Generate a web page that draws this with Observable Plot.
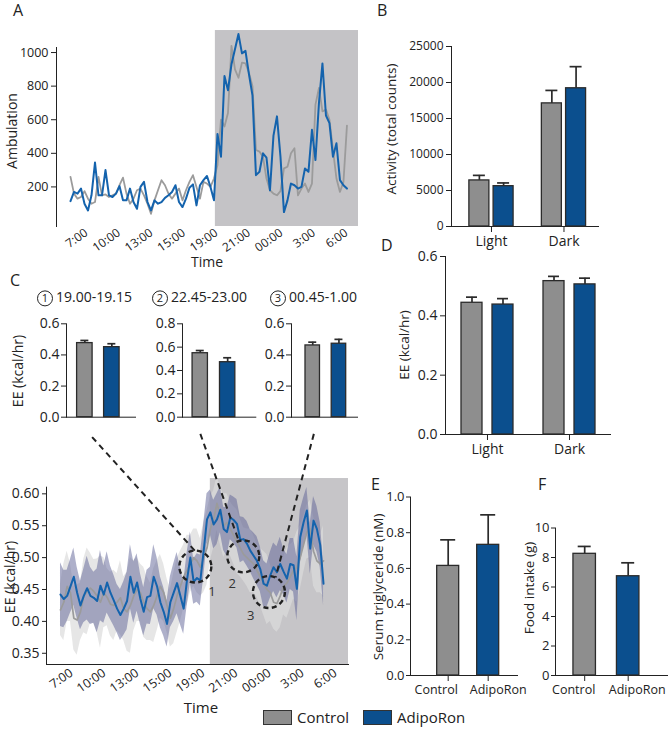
<!DOCTYPE html>
<html><head><meta charset="utf-8">
<script src="https://cdn.jsdelivr.net/npm/d3@7"></script>
<script src="https://cdn.jsdelivr.net/npm/@observablehq/plot@0.6"></script>
<style>
body{margin:0;background:#fff;}
#fig{position:relative;width:670px;height:729px;overflow:hidden;font-family:"Open Sans",sans-serif;color:#222;background:#fff;}
.lab{position:absolute;white-space:nowrap;line-height:1.2;}
.circ{display:inline-block;width:14px;height:14px;border:1.3px solid #222;border-radius:50%;text-align:center;line-height:14px;font-size:11px;margin-right:3px;vertical-align:middle;}
.leg{position:absolute;display:flex;align-items:center;font-size:15px;line-height:1;height:16px;}
.sw{display:inline-block;width:27px;height:13px;border:1.5px solid #333;margin-right:5px;}
</style></head><body><div id="fig"></div>
<script>
// ---------- data ----------
const timeLabels = ["7:00","10:00","13:00","15:00","19:00","21:00","00:00","3:00","6:00"];
// Panel A: ambulation per bin (index), 80 bins
const tickIdxA = [4.57, 13.86, 23.14, 32.43, 41.71, 51, 60.29, 69.57, 78.86];
const darkStartA = 41.4, lastIdxA = 82.3;
const ambAdipo = [
 115,170,160,190,100,60,150,345,150,150,
 300,150,140,160,205,120,120,190,110,70,
 200,230,110,60,120,100,110,135,150,170,
 210,110,80,130,195,215,90,210,240,265,
 200,120,515,380,860,775,930,1020,1110,995,
 1010,870,745,270,290,400,375,180,505,620,
 380,50,120,220,210,190,200,310,290,540,
 360,700,935,625,580,380,460,240,210,190];
const ambControl = [
 260,160,130,140,175,130,100,110,260,150,
 155,140,150,160,210,255,160,100,130,180,
 190,150,100,40,120,180,240,210,160,130,
 160,190,120,180,230,270,200,130,230,220,
 200,250,330,600,560,640,1040,900,850,940,
 935,880,800,420,410,380,250,180,160,150,
 175,310,320,400,430,150,190,220,170,220,
 690,790,650,660,600,420,250,170,230,565];

// Panel B: activity totals
const periods = ["Light","Dark"];
const actControl = [6400, 17100], actControlErr = [700, 1800];
const actAdipo = [5600, 19200], actAdipoErr = [450, 3000];

// Panel D: EE light/dark
const eeLDControl = [0.444, 0.517], eeLDControlErr = [0.019, 0.016];
const eeLDAdipo = [0.438, 0.506], eeLDAdipoErr = [0.020, 0.021];

// Panel C (top): windows
const windows = ["19.00-19.15","22.45-23.00","00.45-1.00"];
const winControl = [0.476, 0.548, 0.461], winControlErr = [0.017, 0.023, 0.021];
const winAdipo = [0.450, 0.471, 0.472], winAdipoErr = [0.022, 0.038, 0.028];
const winYMax = [0.6, 0.8, 0.6];

// Panel C (bottom): EE time course (80 bins) mean and SEM
const tickIdxC = [3.3, 13.2, 23.1, 33.0, 42.9, 52.8, 62.8, 72.7, 82.6];
const darkStartC = 45, lastIdxC = 86.5;
const eeAdipo = [
 0.442,0.435,0.440,0.455,0.470,0.445,0.425,0.440,0.452,0.440,
 0.437,0.432,0.456,0.442,0.461,0.445,0.433,0.420,0.410,0.420,
 0.432,0.470,0.445,0.461,0.435,0.415,0.438,0.440,0.470,0.455,
 0.430,0.415,0.396,0.430,0.445,0.460,0.440,0.420,0.465,0.500,
 0.462,0.468,0.464,0.510,0.560,0.571,0.552,0.560,0.575,0.545,
 0.540,0.563,0.559,0.553,0.528,0.529,0.522,0.511,0.503,0.495,
 0.482,0.459,0.456,0.472,0.485,0.477,0.490,0.478,0.467,0.490,
 0.488,0.451,0.532,0.555,0.574,0.514,0.558,0.545,0.520,0.459];
const eeControl = [
 0.418,0.430,0.455,0.445,0.405,0.402,0.415,0.440,0.447,0.452,
 0.447,0.440,0.430,0.445,0.438,0.427,0.425,0.430,0.437,0.420,
 0.415,0.425,0.440,0.450,0.445,0.430,0.420,0.415,0.425,0.440,
 0.455,0.445,0.425,0.405,0.420,0.440,0.455,0.470,0.480,0.490,
 0.500,0.495,0.485,0.500,0.515,0.545,0.560,0.585,0.565,0.550,
 0.555,0.545,0.535,0.525,0.515,0.505,0.500,0.495,0.490,0.480,
 0.470,0.460,0.450,0.445,0.430,0.428,0.440,0.455,0.460,0.470,
 0.480,0.485,0.500,0.520,0.540,0.545,0.510,0.495,0.490,0.495];
const eeAdipoSem = [
 0.050,0.045,0.040,0.042,0.045,0.040,0.038,0.042,0.050,0.045,
 0.040,0.050,0.055,0.045,0.048,0.042,0.040,0.038,0.040,0.042,
 0.045,0.050,0.048,0.045,0.040,0.038,0.042,0.045,0.050,0.045,
 0.040,0.038,0.036,0.040,0.045,0.048,0.045,0.040,0.042,0.040,
 0.035,0.038,0.040,0.042,0.040,0.035,0.038,0.040,0.036,0.034,
 0.038,0.035,0.036,0.038,0.036,0.034,0.035,0.033,0.036,0.038,
 0.035,0.036,0.034,0.036,0.038,0.040,0.042,0.036,0.038,0.040,
 0.042,0.050,0.042,0.038,0.036,0.040,0.038,0.036,0.035,0.034];
const eeControlSem = [
 0.040,0.060,0.055,0.045,0.050,0.055,0.045,0.058,0.068,0.055,
 0.050,0.058,0.072,0.055,0.045,0.050,0.055,0.045,0.058,0.050,
 0.062,0.075,0.055,0.050,0.045,0.055,0.050,0.045,0.058,0.055,
 0.050,0.045,0.042,0.045,0.055,0.058,0.055,0.050,0.055,0.045,
 0.045,0.050,0.045,0.055,0.058,0.050,0.045,0.042,0.045,0.050,
 0.045,0.042,0.045,0.050,0.045,0.042,0.045,0.050,0.045,0.042,
 0.045,0.050,0.055,0.045,0.042,0.045,0.050,0.045,0.055,0.050,
 0.045,0.055,0.050,0.045,0.042,0.045,0.055,0.050,0.045,0.055];
// zoom windows marked on the time course (bin index, EE) and their links to the bar panels
const markWindows = [{n:"1", i:40.5, v:0.486, li:45.5, lv:0.446}, {n:"2", i:54.9, v:0.502, li:51.6, lv:0.459}, {n:"3", i:62.6, v:0.446, li:57.1, lv:0.409}];
const markLinks = [{x1:9.5, y1:0.689, x2:40.5, y2:0.510}, {x1:42.0, y1:0.694, x2:53.5, y2:0.527}, {x1:76.1, y1:0.694, x2:64.6, y2:0.469}];

// Panel E / F
const groups = ["Control","AdipoRon"];
const trig = [0.614, 0.732], trigErr = [0.146, 0.168];
const food = [8.25, 6.73], foodErr = [0.50, 0.91];

// ---------- helpers ----------
const GREY = "#8e8e8e", BLUE = "#0b4f8e", EDGE = "#2b2b2b";
const LINEBLUE = "#1463ad", LINEGREY = "#9b9b9b";
const fig = document.getElementById("fig");
const BASE = {background:"transparent", fontFamily:"'Open Sans', sans-serif", color:"#222", overflow:"visible"};
function addSvg(svg, left, top){ svg.style.position="absolute"; svg.style.left=left+"px"; svg.style.top=top+"px"; fig.appendChild(svg); return svg; }
function txt(s, x, y, size, mode){ const d=document.createElement("div"); d.className="lab"; d.textContent=s;
  d.style.left=x+"px"; d.style.top=y+"px"; d.style.fontSize=size+"px";
  d.style.transform = mode==="rot" ? "translate(-50%,-50%) rotate(-90deg)" : mode==="ctr" ? "translate(-50%,-50%)" : "translate(0,-50%)";
  fig.appendChild(d); return d; }
function axisFont(svg, axis, size){ svg.querySelectorAll(`g[aria-label^="${axis}-axis"] text`).forEach(t=>t.setAttribute("font-size", size)); }
function nudgeX(svg, shifts){ svg.querySelectorAll(`g[aria-label^="x-axis"] text`).forEach(t=>{ const s = shifts[t.textContent.trim()]; if (s) t.setAttribute("dx", s); }); }
function bw(W, n, pi, po){ return W*(1-pi)/(n - pi + 2*po); }
const color = {domain: groups, range: [GREY, BLUE]};

function groupedMarks(recs, band, barW, capW){
  const off = band/2 - barW/2;
  const c = recs.filter(d=>d.group==="Control"), a = recs.filter(d=>d.group==="AdipoRon");
  const top = d=>d.value+d.err;
  return [
    Plot.ruleX(c, {x:"cat", y1:"value", y2:top, dx:-off, stroke:EDGE, strokeWidth:1.7}),
    Plot.ruleX(a, {x:"cat", y1:"value", y2:top, dx:off, stroke:EDGE, strokeWidth:1.7}),
    Plot.tickY(c, {x:"cat", y:top, insetLeft:barW/2-capW/2, insetRight:band-barW/2-capW/2, stroke:EDGE, strokeWidth:1.7}),
    Plot.tickY(a, {x:"cat", y:top, insetLeft:band-barW/2-capW/2, insetRight:barW/2-capW/2, stroke:EDGE, strokeWidth:1.7}),
    Plot.barY(c, {x:"cat", y:"value", fill:"group", insetRight:band-barW, stroke:EDGE, strokeWidth:1.3}),
    Plot.barY(a, {x:"cat", y:"value", fill:"group", insetLeft:band-barW, stroke:EDGE, strokeWidth:1.3})
  ];
}
function singleMarks(recs, band, capW){
  const top = d=>d.value+d.err;
  return [
    Plot.ruleX(recs, {x:"group", y1:"value", y2:top, stroke:EDGE, strokeWidth:1.7}),
    Plot.tickY(recs, {x:"group", y:top, insetLeft:(band-capW)/2, insetRight:(band-capW)/2, stroke:EDGE, strokeWidth:1.7}),
    Plot.barY(recs, {x:"group", y:"value", fill:"group", stroke:EDGE, strokeWidth:1.3})
  ];
}

// ---------- Panel A ----------
{
  const tl = new Map(tickIdxA.map((t,k)=>[t, timeLabels[k]]));
  const svg = Plot.plot({
    width: 362, height: 272, marginLeft: 56, marginRight: 4, marginTop: 47, marginBottom: 46,
    style: {...BASE, fontSize: "12.5px"},
    x: {domain: [-4, lastIdxA], ticks: tickIdxA, tickFormat: d=>tl.get(d), tickRotate: -35, tickSize: 0, tickPadding: 5, label: null},
    y: {domain: [-35.7, 1030], ticks: [200,400,600,800,1000], tickFormat: "d", tickSize: 5, tickPadding: 3, line: true, label: null},
    marks: [
      Plot.rect([0], {x1: darkStartA, x2: lastIdxA, y1: -35.7, y2: 1131, fill: "#c4c3c6"}),
      Plot.line(ambControl, {x: (d,i)=>i, y: d=>d, stroke: LINEGREY, strokeWidth: 1.8}),
      Plot.line(ambAdipo, {x: (d,i)=>i, y: d=>d, stroke: LINEBLUE, strokeWidth: 2})
    ]
  });
  axisFont(svg, "x", 12);
  addSvg(svg, 0, 0);
  txt("Ambulation", 12, 131, 14, "rot");
  txt("Time", 207, 262, 14, "ctr");
  txt("A", 13, 11, 16);
}

// ---------- Panel B ----------
{
  const recs = periods.flatMap((p,k)=>[{cat:p, group:"Control", value:actControl[k], err:actControlErr[k]}, {cat:p, group:"AdipoRon", value:actAdipo[k], err:actAdipoErr[k]}]);
  const pi=0.39, po=0.209, W=147;
  const band = bw(W, 2, pi, po);
  const svg = Plot.plot({
    width: 310, height: 258, marginLeft: 91, marginRight: 72, marginTop: 46, marginBottom: 32,
    style: {...BASE, fontSize: "12px"},
    x: {domain: periods, paddingInner: pi, paddingOuter: po, align: 0.59, round: false, tickSize: 6, tickPadding: 4, line: true, label: null},
    y: {domain: [0, 25000], ticks: [0,5000,10000,15000,20000,25000], tickFormat: "d", tickSize: 5, tickPadding: 3, line: true, label: null},
    color,
    marks: groupedMarks(recs, band, 20, 12)
  });
  axisFont(svg, "x", 14);
  addSvg(svg, 360, 0);
  txt("Activity (total counts)", 391, 129, 13.5, "rot");
  txt("B", 377, 11, 16);
}

// ---------- Panel D ----------
{
  const recs = periods.flatMap((p,k)=>[{cat:p, group:"Control", value:eeLDControl[k], err:eeLDControlErr[k]}, {cat:p, group:"AdipoRon", value:eeLDAdipo[k], err:eeLDAdipoErr[k]}]);
  const pi=0.366, po=0.189, W=165;
  const band = bw(W, 2, pi, po);
  const svg = Plot.plot({
    width: 310, height: 215, marginLeft: 85, marginRight: 60, marginTop: 8, marginBottom: 29,
    style: {...BASE, fontSize: "14px"},
    x: {domain: periods, paddingInner: pi, paddingOuter: po, align: 0.516, round: false, tickSize: 6, tickPadding: 4, line: true, label: null},
    y: {domain: [0, 0.6], ticks: [0,0.2,0.4,0.6], tickFormat: ".1f", tickSize: 5, tickPadding: 3, line: true, label: null},
    color,
    marks: groupedMarks(recs, band, 21, 11)
  });
  addSvg(svg, 360, 248);
  txt("EE (kcal/hr)", 404, 345, 13.5, "rot");
  txt("D", 381, 246, 16);
}

// ---------- Panel C (top: three windows) ----------
{
  const frames = [{L:66, R:135, pi:0.426, po:0.491, al:0.40}, {L:181.7, R:255, pi:0.44, po:0.557, al:0.33}, {L:291, R:357, pi:0.447, po:0.483, al:0.553}];
  windows.forEach((w,k)=>{
    const f = frames[k], W = f.R - f.L;
    const band = bw(W, 2, f.pi, f.po);
    const recs = [{group:"Control", value:winControl[k], err:winControlErr[k]}, {group:"AdipoRon", value:winAdipo[k], err:winAdipoErr[k]}];
    const svg = Plot.plot({
      width: W + 51, height: 113, marginLeft: 45, marginRight: 6, marginTop: 13.3, marginBottom: 6.3,
      style: {...BASE, fontSize: "14px"},
      x: {domain: groups, paddingInner: f.pi, paddingOuter: f.po, align: f.al, round: false, tickSize: 0, tickFormat: ()=>"", line: true, label: null},
      y: {domain: [0, winYMax[k]], ticks: d3.range(0, winYMax[k]+0.01, 0.2), tickFormat: ".1f", tickSize: 5, tickPadding: 2, line: true, label: null},
      color,
      marks: singleMarks(recs, band, 8)
    });
    addSvg(svg, f.L - 45, 310);
  });
  const titleX = [37, 152, 270];
  windows.forEach((w,k)=>{
    const d = document.createElement("div"); d.className="lab"; d.style.left=titleX[k]+"px"; d.style.top="298px"; d.style.transform="translate(0,-50%)"; d.style.fontSize="14px";
    const c = document.createElement("span"); c.className="circ"; c.textContent=String(k+1);
    d.appendChild(c); d.appendChild(document.createTextNode(w)); fig.appendChild(d);
  });
  txt("EE (kcal/hr)", 18, 371, 14, "rot");
  txt("C", 10, 281, 16);
}

// ---------- Panel C (bottom: time course) ----------
{
  const tl = new Map(tickIdxC.map((t,k)=>[t, timeLabels[k]]));
  const rows = eeAdipo.map((v,i)=>({i, a:v, c:eeControl[i], sa:eeAdipoSem[i], sc:eeControlSem[i]}));
  const yMin = 0.3324, yMax = 0.6104;
  const svg = Plot.plot({
    width: 360, height: 304, marginLeft: 46, marginRight: 12, marginTop: 61.7, marginBottom: 65,
    style: {...BASE, fontSize: "14px"},
    x: {domain: [-4.2, lastIdxC], ticks: tickIdxC, tickFormat: d=>tl.get(d), tickRotate: -35, tickSize: 0, tickPadding: 7, line: true, label: null},
    y: {domain: [yMin, yMax], ticks: [0.35,0.40,0.45,0.50,0.55,0.60], tickFormat: ".2f", tickSize: 4, tickPadding: 3, line: true, label: null},
    marks: [
      Plot.rect([0], {x1: darkStartC, x2: lastIdxC, y1: yMin, y2: 0.624, fill: "#c6c5c8"}),
      Plot.areaY(rows, {x:"i", y1: d=>d.c-d.sc, y2: d=>d.c+d.sc, fill: "#dcdcdc", fillOpacity: 0.7}),
      Plot.areaY(rows, {x:"i", y1: d=>d.a-d.sa, y2: d=>d.a+d.sa, fill: "#5d6196", fillOpacity: 0.5}),
      Plot.line(rows, {x:"i", y:"c", stroke: LINEGREY, strokeWidth: 1.7}),
      Plot.line(rows, {x:"i", y:"a", stroke: LINEBLUE, strokeWidth: 2}),
      Plot.dot(markWindows, {x:"i", y:"v", r: 16, fill: "none", stroke: "#222", strokeWidth: 2.4, strokeDasharray: "5,3.5"}),
      Plot.text(markWindows, {x:"li", y:"lv", text:"n", fill: "#333", fontSize: 13}),
      Plot.link(markLinks, {x1:"x1", y1:"y1", x2:"x2", y2:"y2", stroke: "#222", strokeWidth: 2, strokeDasharray: "6,4.5"})
    ]
  });
  axisFont(svg, "x", 12.5);
  addSvg(svg, 0, 425);
  txt("EE (kcal/hr)", 10, 577, 14, "rot");
  txt("Time", 201, 707, 15, "ctr");
}

// ---------- Panel E ----------
{
  const pi=0.45, po=0.5625, W=107;
  const band = bw(W, 2, pi, po);
  const recs = groups.map((g,k)=>({group:g, value:trig[k], err:trigErr[k]}));
  const svg = Plot.plot({
    width: 162, height: 251, marginLeft: 50, marginRight: 5, marginTop: 18.5, marginBottom: 54,
    style: {...BASE, fontSize: "13px"},
    x: {domain: groups, paddingInner: pi, paddingOuter: po, align: 0.593, round: false, tickSize: 6, tickPadding: 4, line: true, label: null},
    y: {domain: [0, 1], ticks: [0,0.2,0.4,0.6,0.8,1.0], tickFormat: ".1f", tickSize: 4, tickPadding: 2, line: true, label: null},
    color,
    marks: singleMarks(recs, band, 15)
  });
  axisFont(svg, "x", 12.5);
  nudgeX(svg, {Control: -12, AdipoRon: 10});
  addSvg(svg, 360, 478);
  txt("Serum triglyceride (nM)", 378, 587, 13.5, "rot");
  txt("E", 371, 485, 16);
}

// ---------- Panel F ----------
{
  const pi=0.483, po=0.529, W=112;
  const band = bw(W, 2, pi, po);
  const recs = groups.map((g,k)=>({group:g, value:food[k], err:foodErr[k]}));
  const svg = Plot.plot({
    width: 160, height: 251, marginLeft: 45, marginRight: 3, marginTop: 49.5, marginBottom: 54,
    style: {...BASE, fontSize: "13px"},
    x: {domain: groups, paddingInner: pi, paddingOuter: po, align: 0.39, round: false, tickSize: 6, tickPadding: 4, line: true, label: null},
    y: {domain: [0, 10], ticks: [0,2,4,6,8,10], tickFormat: "d", tickSize: 4, tickPadding: 2, line: true, label: null},
    color,
    marks: singleMarks(recs, band, 13)
  });
  axisFont(svg, "x", 12.5);
  nudgeX(svg, {Control: -11, AdipoRon: 9});
  addSvg(svg, 510, 478);
  txt("Food intake (g)", 529, 588, 13.5, "rot");
  txt("F", 538, 485, 16);
}

// ---------- Legend ----------
{
  const mk = (g, col, left)=>{ const d=document.createElement("div"); d.className="leg"; d.style.left=left+"px"; d.style.top="709px";
    const s=document.createElement("span"); s.className="sw"; s.style.background=col; d.appendChild(s); d.appendChild(document.createTextNode(g)); fig.appendChild(d); };
  mk(groups[0], GREY, 263);
  mk(groups[1], BLUE, 363);
}
</script></body></html>
